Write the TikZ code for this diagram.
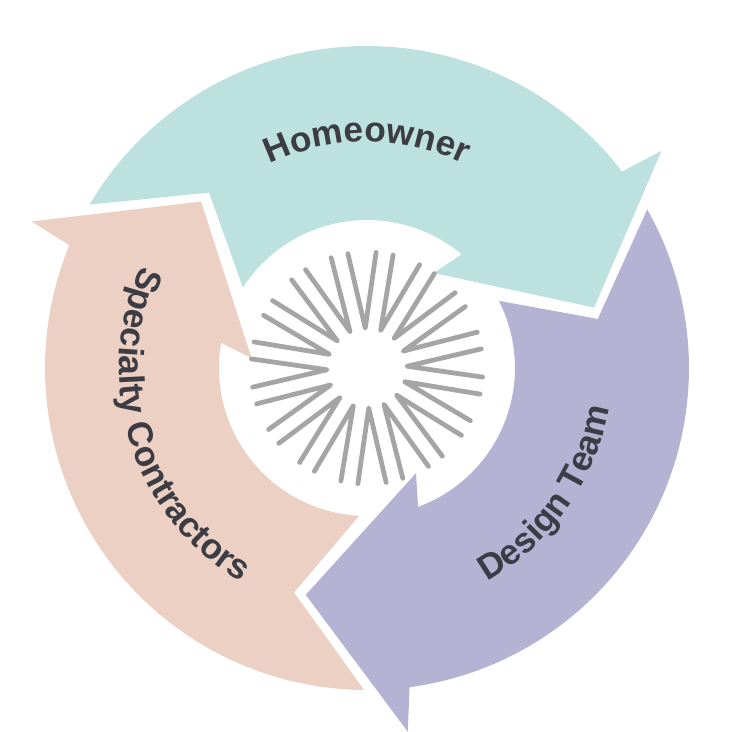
\documentclass[tikz,border=0pt]{standalone}
\usepackage{fontspec}
\setmainfont{Liberation Sans}
\usetikzlibrary{decorations.text}

\definecolor{ownerteal}{HTML}{BCE1DE}
\definecolor{tradepeach}{HTML}{ECD0C4}
\definecolor{designlilac}{HTML}{B5B3D4}
\definecolor{raygray}{HTML}{A5A5A5}
\definecolor{labelgray}{HTML}{3C3C44}

\newcommand{\labelfont}{\fontsize{10}{12}\selectfont\bfseries}
\newcommand{\cyclearrow}[2]{%
  \fill[#1, rotate=#2] (37.6:322) -- (36.4:366) -- (14.9:235) -- (55:116) -- (50.2:148)
    arc[start angle=50.2, end angle=147, radius=148] -- (132:236) -- (149.5:322)
    arc[start angle=149.5, end angle=37.6, radius=322] -- cycle;}

\begin{document}
\begin{tikzpicture}[x=0.01cm, y=0.01cm,
    ray/.style={raygray, line width=1.35pt, line cap=round, line join=round},
    curved label/.style={decorate, decoration={text along path, text align=center,
      text color=labelgray, text={|\labelfont|#1}}}]
  \useasboundingbox (-367,-364) rectangle (365,368);
  \cyclearrow{ownerteal}{0}
  \cyclearrow{tradepeach}{120}
  \cyclearrow{designlilac}{-120}
  % starburst in the middle
  \foreach \a in {2.5,25,...,340} {
    \draw[ray] ({\a-7}:116) -- (\a:40) -- ({\a+7}:116);
  }
  \path[curved label=Homeowner] (150:226) arc[start angle=150, end angle=30, radius=226];
  \path[curved label=Specialty Contractors] (145:248) arc[start angle=145, end angle=250, radius=248];
  \path[curved label=Design Team] (-75:245) arc[start angle=-75, end angle=5, radius=245];
\end{tikzpicture}
\end{document}
